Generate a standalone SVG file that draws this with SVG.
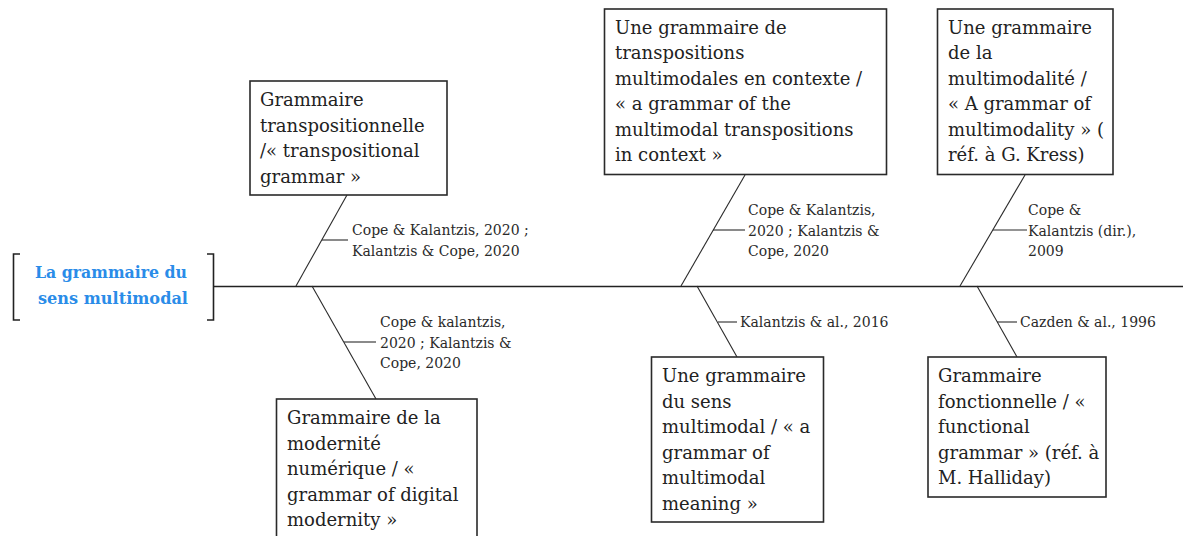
<svg xmlns="http://www.w3.org/2000/svg" width="1183" height="536" viewBox="0 0 1183 536">
<style>
.box{fill:#fff;stroke:#2a2a2a;stroke-width:1.6}
.bt{font-family:"DejaVu Serif","Liberation Serif",serif;font-size:18px;fill:#222}
.lb{font-family:"DejaVu Serif","Liberation Serif",serif;font-size:14px;fill:#2a2a2a}
.ln{stroke:#2a2a2a;stroke-width:1.1;fill:none}
.spine{stroke:#222;stroke-width:1.6;fill:none}
.title{font-family:"DejaVu Serif","Liberation Serif",serif;font-size:17px;font-weight:bold;fill:#2a8ce8}
</style>
<rect width="1183" height="536" fill="#fff"/>
<g id="connectors">
<line class="spine" x1="214" y1="286.5" x2="1183" y2="286.5"/>
<line class="ln" x1="296" y1="286" x2="347" y2="195"/>
<line class="ln" x1="322" y1="240" x2="348" y2="240"/>
<line class="ln" x1="312" y1="286" x2="376" y2="399"/>
<line class="ln" x1="344" y1="342" x2="376" y2="342"/>
<line class="ln" x1="681" y1="286" x2="745" y2="175"/>
<line class="ln" x1="713" y1="230" x2="745" y2="230"/>
<line class="ln" x1="697" y1="286" x2="737" y2="357"/>
<line class="ln" x1="718" y1="322" x2="737" y2="322"/>
<line class="ln" x1="960" y1="286" x2="1025" y2="175"/>
<line class="ln" x1="993" y1="230" x2="1027" y2="230"/>
<line class="ln" x1="977" y1="286" x2="1017" y2="357"/>
<line class="ln" x1="997" y1="322" x2="1017" y2="322"/>
</g>
<g id="title">
<path class="spine" d="M20,254 H13.5 V320 H20 M207,254 H213.5 V320 H207"/>
<text class="title" x="35" y="278" textLength="152" lengthAdjust="spacingAndGlyphs">La grammaire du</text>
<text class="title" x="38" y="304" textLength="150" lengthAdjust="spacingAndGlyphs">sens multimodal</text>
</g>
<g id="nodeA">
<rect class="box" x="250" y="81" width="197" height="114"/>
<text class="bt" x="260" y="106">Grammaire</text>
<text class="bt" x="260" y="131.5">transpositionnelle</text>
<text class="bt" x="260" y="157">/« transpositional</text>
<text class="bt" x="260" y="182.5">grammar »</text>
</g>
<g id="labelA">
<text class="lb" x="352" y="235">Cope &amp; Kalantzis, 2020 ;</text>
<text class="lb" x="352" y="256">Kalantzis &amp; Cope, 2020</text>
</g>
<g id="nodeB">
<rect class="box" x="276.5" y="399" width="200.5" height="150"/>
<text class="bt" x="287" y="424">Grammaire de la</text>
<text class="bt" x="287" y="449.5">modernité</text>
<text class="bt" x="287" y="475">numérique / «</text>
<text class="bt" x="287" y="500.5">grammar of digital</text>
<text class="bt" x="287" y="526">modernity »</text>
</g>
<g id="labelB">
<text class="lb" x="380" y="327">Cope &amp; kalantzis,</text>
<text class="lb" x="380" y="347.5">2020 ; Kalantzis &amp;</text>
<text class="lb" x="380" y="368">Cope, 2020</text>
</g>
<g id="nodeC">
<rect class="box" x="604.5" y="9" width="282" height="165.5"/>
<text class="bt" x="615" y="33.5">Une grammaire de</text>
<text class="bt" x="615" y="59">transpositions</text>
<text class="bt" x="615" y="84.5">multimodales en contexte /</text>
<text class="bt" x="615" y="110">« a grammar of the</text>
<text class="bt" x="615" y="135.5">multimodal transpositions</text>
<text class="bt" x="615" y="161">in context »</text>
</g>
<g id="labelC">
<text class="lb" x="748" y="215">Cope &amp; Kalantzis,</text>
<text class="lb" x="748" y="235.5">2020 ; Kalantzis &amp;</text>
<text class="lb" x="748" y="256">Cope, 2020</text>
</g>
<g id="nodeD">
<rect class="box" x="651.5" y="357" width="172" height="165"/>
<text class="bt" x="662" y="382">Une grammaire</text>
<text class="bt" x="662" y="407.5">du sens</text>
<text class="bt" x="662" y="433">multimodal / « a</text>
<text class="bt" x="662" y="458.5">grammar of</text>
<text class="bt" x="662" y="484">multimodal</text>
<text class="bt" x="662" y="509.5">meaning »</text>
</g>
<g id="labelD">
<text class="lb" x="740" y="326.5">Kalantzis &amp; al., 2016</text>
</g>
<g id="nodeE">
<rect class="box" x="937.5" y="9" width="175.5" height="165.5"/>
<text class="bt" x="948" y="33.5">Une grammaire</text>
<text class="bt" x="948" y="59">de la</text>
<text class="bt" x="948" y="84.5">multimodalité /</text>
<text class="bt" x="948" y="110">« A grammar of</text>
<text class="bt" x="948" y="135.5">multimodality » (</text>
<text class="bt" x="948" y="161">réf. à G. Kress)</text>
</g>
<g id="labelE">
<text class="lb" x="1028" y="215">Cope &amp;</text>
<text class="lb" x="1028" y="235.5">Kalantzis (dir.),</text>
<text class="lb" x="1028" y="256">2009</text>
</g>
<g id="nodeF">
<rect class="box" x="928" y="357" width="178" height="140"/>
<text class="bt" x="938" y="382">Grammaire</text>
<text class="bt" x="938" y="407.5">fonctionnelle / «</text>
<text class="bt" x="938" y="433">functional</text>
<text class="bt" x="938" y="458.5">grammar » (réf. à</text>
<text class="bt" x="938" y="484">M. Halliday)</text>
</g>
<g id="labelF">
<text class="lb" x="1020" y="326.5">Cazden &amp; al., 1996</text>
</g>
</svg>
